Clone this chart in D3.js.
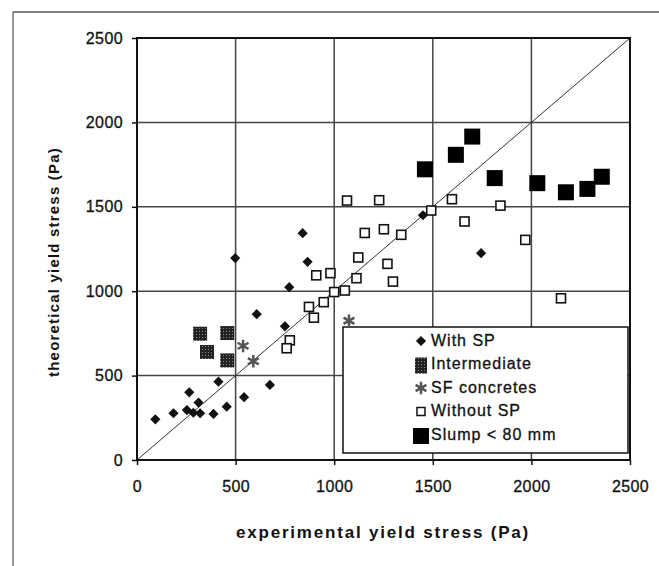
<!DOCTYPE html>
<html>
<head>
<meta charset="utf-8">
<script src="https://cdn.jsdelivr.net/npm/d3@7"></script>
<style>
  body { margin: 0; background: #fff; }
  svg text { font-family: Arial, "Liberation Sans", Helvetica, sans-serif; fill: #111; }
</style>
</head>
<body>
<div id="chart"></div>
<script>
// values, [experimental, theoretical] in Pa
const withSP = [
  [93, 241], [185, 277], [253, 296], [265, 401], [286, 280], [320, 277],
  [312, 340], [388, 273], [455, 316], [413, 464], [543, 372], [607, 864],
  [674, 445], [750, 792], [772, 1024], [498, 1196], [840, 1344], [865, 1174],
  [1450, 1450], [1745, 1225]
];
const intermediate = [[320, 748], [458, 752], [355, 640], [458, 590]];
const sfConcretes = [[538, 676], [590, 585], [1075, 825]];
const withoutSP = [
  [1065, 1537], [1228, 1539], [1155, 1345], [1252, 1367], [1340, 1334],
  [1122, 1200], [1270, 1162], [1298, 1057], [909, 1094], [981, 1107],
  [1113, 1077], [1000, 995], [1054, 1004], [947, 935], [872, 907],
  [897, 843], [775, 709], [759, 662], [1597, 1545], [1492, 1478],
  [1843, 1507], [1661, 1413], [1969, 1304], [2150, 958]
];
const slump = [
  [1460, 1722], [1617, 1808], [1700, 1916], [1814, 1670], [2030, 1640],
  [2175, 1586], [2284, 1606], [2357, 1678]
];
const ticks = [0, 500, 1000, 1500, 2000, 2500];
const legendLabels = ["With SP", "Intermediate", "SF concretes", "Without SP", "Slump < 80 mm"];

const W = 659, H = 566;
const svg = d3.select("#chart").append("svg")
  .attr("width", W)
  .attr("height", H);

const mLeft = 137, mRight = 630, mTop = 38, mBottom = 460;
const x = d3.scaleLinear().domain([0, 2500]).range([mLeft, mRight]);
const y = d3.scaleLinear().domain([0, 2500]).range([mBottom, mTop]);

// scan frame
svg.append("line").attr("x1", 13).attr("y1", 12).attr("x2", W).attr("y2", 12)
  .attr("stroke", "#555").attr("stroke-width", 1.5);
svg.append("line").attr("x1", 13).attr("y1", 12).attr("x2", 13).attr("y2", H)
  .attr("stroke", "#777").attr("stroke-width", 1.5);

// hatch for "Intermediate"
const defs = svg.append("defs");
const pat = defs.append("pattern")
  .attr("id", "hatch")
  .attr("patternUnits", "userSpaceOnUse")
  .attr("width", 3).attr("height", 3);
pat.append("rect").attr("width", 3).attr("height", 3).attr("fill", "#222");
pat.append("rect").attr("x", 1).attr("y", 1).attr("width", 1).attr("height", 1).attr("fill", "#888");

// grid
const grid = svg.append("g");
grid.selectAll("line.vg")
  .data(ticks.slice(1, -1))
  .enter().append("line")
  .classed("vg", true)
  .attr("x1", (d) => x(d)).attr("x2", (d) => x(d))
  .attr("y1", mTop).attr("y2", mBottom)
  .attr("stroke", "#444").attr("stroke-width", 1.5);
grid.selectAll("line.hg")
  .data(ticks.slice(1, -1))
  .enter().append("line")
  .classed("hg", true)
  .attr("x1", mLeft).attr("x2", mRight)
  .attr("y1", (d) => y(d)).attr("y2", (d) => y(d))
  .attr("stroke", "#444").attr("stroke-width", 1.5);

// y = x line
svg.append("line")
  .attr("x1", x(0)).attr("y1", y(0))
  .attr("x2", x(2500)).attr("y2", y(2500))
  .attr("stroke", "#333").attr("stroke-width", 1);

// axes
const fmt = d3.format("d");
const xAxis = svg.append("g")
  .attr("transform", `translate(0,${mBottom})`)
  .call(d3.axisBottom(x).tickValues(ticks).tickFormat(fmt).tickSize(5).tickPadding(16));
const yAxis = svg.append("g")
  .attr("transform", `translate(${mLeft},0)`)
  .call(d3.axisLeft(y).tickValues(ticks).tickFormat(fmt).tickSize(5).tickPadding(9));
[xAxis, yAxis].forEach((g) => {
  g.select(".domain").remove();
  g.selectAll("line").attr("stroke", "#111").attr("stroke-width", 1.5);
  g.selectAll("text")
    .attr("font-size", 16)
    .attr("letter-spacing", 0.4)
    .style("font-family", "Arial, 'Liberation Sans', sans-serif")
    .attr("fill", "#111")
    .attr("stroke", "#111").attr("stroke-width", 0.3);
});

// plot frame
svg.append("rect")
  .attr("x", mLeft).attr("y", mTop)
  .attr("width", mRight - mLeft).attr("height", mBottom - mTop)
  .attr("fill", "none").attr("stroke", "#111").attr("stroke-width", 2);

// legend box (drawn before points so the SF mark at the edge sits on top)
const lx = 343, ly = 327;
svg.append("rect")
  .attr("x", lx).attr("y", ly)
  .attr("width", 285).attr("height", 126)
  .attr("fill", "#fff").attr("stroke", "#111").attr("stroke-width", 1.5);

// marks
const diamond = d3.symbol().type(d3.symbolSquare).size(52);
const star = d3.symbol().type(d3.symbolAsterisk).size(110);

const pts = svg.append("g");
pts.selectAll("rect.without")
  .data(withoutSP)
  .enter().append("rect")
  .classed("without", true)
  .attr("x", (d) => x(d[0]) - 4.5).attr("y", (d) => y(d[1]) - 4.5)
  .attr("width", 9).attr("height", 9)
  .attr("fill", "#fff").attr("stroke", "#111").attr("stroke-width", 1.6);
pts.selectAll("path.withsp")
  .data(withSP)
  .enter().append("path")
  .classed("withsp", true)
  .attr("d", diamond)
  .attr("transform", (d) => `translate(${x(d[0])},${y(d[1])}) rotate(45)`)
  .attr("fill", "#111");
pts.selectAll("rect.inter")
  .data(intermediate)
  .enter().append("rect")
  .classed("inter", true)
  .attr("x", (d) => x(d[0]) - 7).attr("y", (d) => y(d[1]) - 7)
  .attr("width", 14).attr("height", 14)
  .attr("fill", "url(#hatch)");
pts.selectAll("path.sf")
  .data(sfConcretes)
  .enter().append("path")
  .classed("sf", true)
  .attr("d", star)
  .attr("transform", (d) => `translate(${x(d[0])},${y(d[1])})`)
  .attr("fill", "none").attr("stroke", "#555").attr("stroke-width", 2.5);
pts.selectAll("rect.slump")
  .data(slump)
  .enter().append("rect")
  .classed("slump", true)
  .attr("x", (d) => x(d[0]) - 8).attr("y", (d) => y(d[1]) - 8)
  .attr("width", 16).attr("height", 16)
  .attr("fill", "#000");

// legend entries
const rowY = (i) => ly + 13 + i * 23.5;
const sx = 421;
const leg = svg.append("g");
leg.append("path").attr("d", diamond)
  .attr("transform", `translate(${sx},${rowY(0) + 1}) rotate(45)`).attr("fill", "#111");
leg.append("rect").attr("x", sx - 6).attr("y", rowY(1) - 6).attr("width", 12).attr("height", 16)
  .attr("fill", "url(#hatch)");
leg.append("path").attr("d", star)
  .attr("transform", `translate(${sx},${rowY(2) + 1})`)
  .attr("fill", "none").attr("stroke", "#555").attr("stroke-width", 2.5);
leg.append("rect").attr("x", sx - 4).attr("y", rowY(3) - 3).attr("width", 8).attr("height", 8)
  .attr("fill", "#fff").attr("stroke", "#111").attr("stroke-width", 1.5);
leg.append("rect").attr("x", sx - 8).attr("y", rowY(4) - 6).attr("width", 16).attr("height", 16)
  .attr("fill", "#000");
leg.selectAll("text")
  .data(legendLabels)
  .enter().append("text")
  .attr("x", sx + 10)
  .attr("y", (d, i) => rowY(i))
  .attr("dy", "0.35em")
  .attr("font-size", 16)
  .attr("letter-spacing", 1)
  .attr("stroke", "#111").attr("stroke-width", 0.3)
  .text((d) => d);

// axis titles
svg.append("text")
  .attr("x", 383).attr("y", 532)
  .attr("dy", "0.35em")
  .attr("text-anchor", "middle")
  .attr("font-size", 17)
  .attr("font-weight", "bold")
  .attr("letter-spacing", 1.8)
  .text("experimental yield stress (Pa)");
svg.append("text")
  .attr("transform", "translate(54,262) rotate(-90)")
  .attr("dy", "0.35em")
  .attr("text-anchor", "middle")
  .attr("font-size", 15)
  .attr("font-weight", "bold")
  .attr("letter-spacing", 1.2)
  .text("theoretical yield stress (Pa)");
</script>
</body>
</html>
